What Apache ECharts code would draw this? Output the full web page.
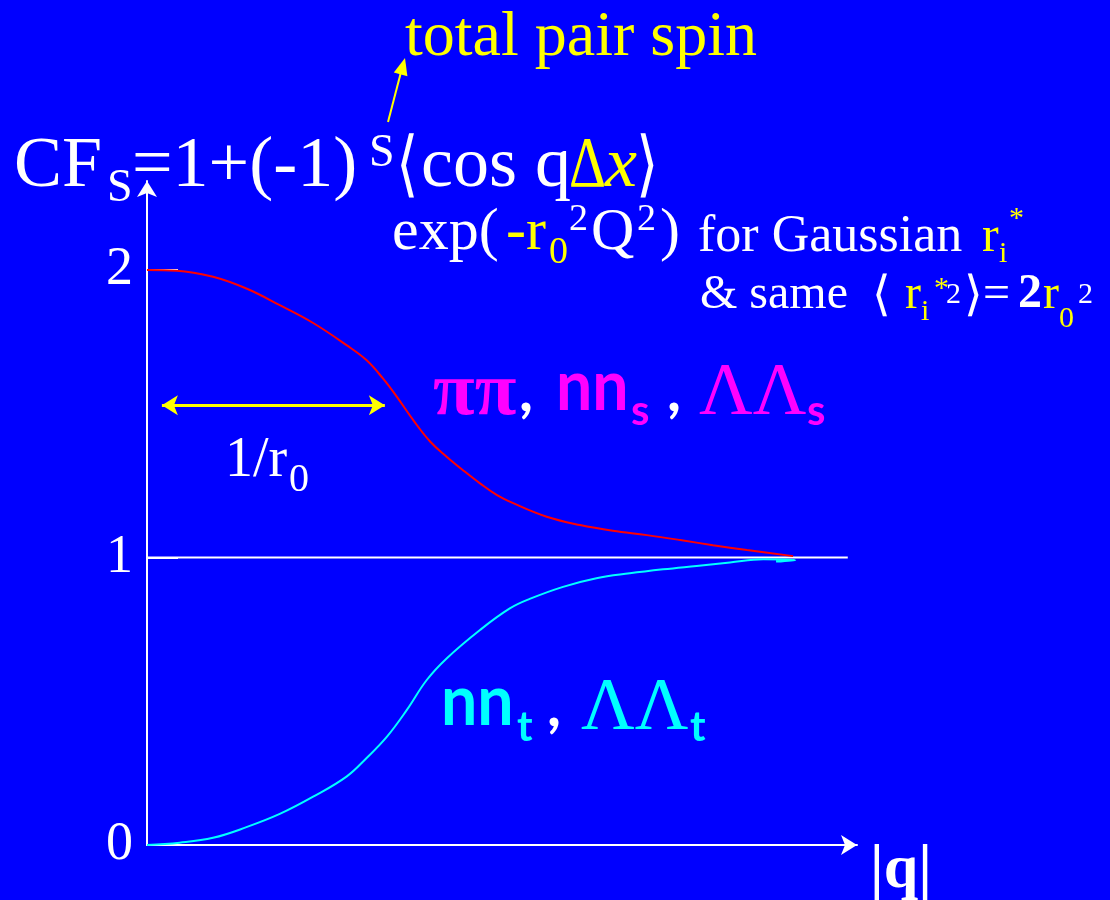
<!DOCTYPE html>
<html>
<head>
<meta charset="utf-8">
<script src="https://cdn.jsdelivr.net/npm/echarts@6/dist/echarts.min.js"></script>
<style>
  html, body { margin: 0; padding: 0; background: #0000ff; }
  #chart { width: 1110px; height: 900px; }
</style>
</head>
<body>
<div id="chart"></div>
<script>
// Correlation function of identical spin-1/2 pairs vs |q|
// Singlet (S = 0): pi pi, nn_s, Lambda Lambda_s  -> starts at 2
const qSinglet  = [0, 0.42, 0.93, 1.40, 1.87, 2.34, 2.81, 3.09, 3.32, 3.52, 3.75, 3.99, 4.22, 4.45, 4.69, 4.93, 5.15, 5.63, 6.10, 6.56, 7.04, 7.51, 7.97, 8.45, 9.10];
const cfSinglet = [2.000, 1.998, 1.977, 1.936, 1.878, 1.816, 1.739, 1.687, 1.624, 1.559, 1.478, 1.403, 1.351, 1.304, 1.258, 1.217, 1.190, 1.142, 1.113, 1.093, 1.078, 1.061, 1.043, 1.026, 1.005];

// Triplet (S = 1): nn_t, Lambda Lambda_t  -> starts at 0
const qTriplet  = [0, 0.46, 0.93, 1.40, 1.87, 2.34, 2.81, 3.09, 3.38, 3.66, 3.94, 4.22, 4.69, 5.11, 5.39, 5.86, 6.33, 6.80, 7.27, 7.74, 8.21, 8.68, 9.13, 8.86];
const cfTriplet = [0.000, 0.008, 0.025, 0.062, 0.108, 0.168, 0.238, 0.302, 0.377, 0.470, 0.574, 0.649, 0.748, 0.823, 0.856, 0.898, 0.928, 0.945, 0.959, 0.971, 0.983, 0.994, 0.991, 0.986];

// Uncorrelated level CF = 1
const qUnity  = [0, 9.87];
const cfUnity = [1, 1];

// Width 1/r0 of the correlation effect
const widthSpan  = [0.21, 3.35];
const widthLevel = 1.53;

// Axis ranges and tick labels
const qRange  = [0, 10];
const cfRange = [0, 2.31];
const cfTicks = [0, 1, 2];

const zip = (xs, ys) => xs.map((x, i) => [x, ys[i]]);

const WHITE = '#ffffff', YELLOW = '#ffff00', MAGENTA = '#ff00ff', CYAN = '#00ffff';
const SERIF = '"Liberation Serif", "Times New Roman", serif';
const SANS = 'Lato, "Open Sans", sans-serif';

// Text piece placed by its left edge and alphabetic baseline
function piece(text, x, baseline, size, color, opts) {
  opts = opts || {};
  const family = opts.family || SERIF;
  const weight = opts.weight || 'normal';
  const style = opts.italic ? 'italic ' : '';
  const k = opts.k != null ? opts.k : (family === SANS ? 0.36 : 0.25);
  return {
    type: 'text',
    silent: true,
    z: 100,
    scaleX: opts.scaleX || 1,
    x: x,
    y: baseline - k * size,
    style: {
      text: text,
      x: 0, y: 0,
      fill: color,
      font: style + weight + ' ' + size + 'px ' + family,
      align: 'left', verticalAlign: 'middle',
      textAlign: 'left', textVerticalAlign: 'middle'
    }
  };
}

const texts = [
  // note on the exponent S
  piece('total pair spin', 405, 54, 64, YELLOW),

  // CF_S = 1 + (-1)^S <cos q Δx>
  piece('CF', 14, 185, 72, WHITE),
  piece('S', 107, 200, 46, WHITE),
  piece('=1+(-1)', 132, 185, 72, WHITE),
  piece('S', 369, 165, 46, WHITE),
  piece('\u27E8', 396, 187, 72, WHITE, { scaleX: 0.8 }),
  piece('cos q', 421, 185, 72, WHITE),
  piece('\u0394', 569, 185, 72, YELLOW, { scaleX: 0.8 }),
  piece('x', 605, 185, 72, YELLOW, { italic: true }),
  piece('\u27E9', 636, 187, 72, WHITE, { scaleX: 0.8 }),

  // exp(-r0^2 Q^2)
  piece('exp(', 392, 248, 60, WHITE),
  piece('-r', 506, 248, 60, YELLOW),
  piece('0', 549, 263, 38, YELLOW),
  piece('2', 569, 230, 38, WHITE),
  piece('Q', 591, 248, 60, WHITE),
  piece('2', 637, 230, 38, WHITE),
  piece(')', 660, 248, 60, WHITE),

  // for Gaussian r_i^*
  piece('for Gaussian', 698, 250, 52, WHITE),
  piece('r', 982, 250, 50, YELLOW),
  piece('i', 999, 262, 30, YELLOW),
  piece('*', 1009, 227, 30, YELLOW),

  // & same <r_i^*2> = 2 r0^2
  piece('& same', 700, 307, 48, WHITE),
  piece('\u27E8', 872, 309, 48, WHITE),
  piece('r', 905, 307, 48, YELLOW),
  piece('i', 921, 320, 30, YELLOW),
  piece('*', 934, 297, 30, YELLOW),
  piece('2', 946, 303, 30, WHITE),
  piece('\u27E9', 964, 309, 48, WHITE),
  piece('=', 983, 307, 48, WHITE),
  piece('2', 1018, 307, 48, WHITE, { weight: 'bold' }),
  piece('r', 1043, 307, 48, YELLOW),
  piece('0', 1059, 327, 30, YELLOW),
  piece('2', 1078, 303, 30, WHITE),

  // singlet label
  piece('\u03C0\u03C0', 433, 413, 76, MAGENTA, { weight: 'bold' }),
  piece(',', 519, 413, 60, WHITE, { family: SANS, weight: 'bold' }),
  piece('nn', 556, 413, 70, MAGENTA, { family: SANS, weight: 'bold', scaleX: 0.92 }),
  piece('s', 631, 427, 42, MAGENTA, { family: SANS, weight: 'bold' }),
  piece(',', 667, 413, 60, WHITE, { family: SANS, weight: 'bold' }),
  piece('\u039B\u039B', 699, 413, 74, MAGENTA),
  piece('s', 807, 427, 42, MAGENTA, { family: SANS, weight: 'bold' }),

  // triplet label
  piece('nn', 441, 728, 70, CYAN, { family: SANS, weight: 'bold', scaleX: 0.92 }),
  piece('t', 517, 743, 42, CYAN, { family: SANS, weight: 'bold' }),
  piece(',', 547, 728, 60, WHITE, { family: SANS, weight: 'bold' }),
  piece('\u039B\u039B', 581, 728, 74, CYAN),
  piece('t', 690, 743, 42, CYAN, { family: SANS, weight: 'bold' }),

  // width label
  piece('1/r', 225, 475, 56, WHITE),
  piece('0', 289, 490, 40, WHITE),

  // x-axis name
  piece('|q|', 870, 886, 62, WHITE, { weight: 'bold' }),

  // pointer from the exponent S to the note
  {
    type: 'line', silent: true, z: 100,
    shape: { x1: 388, y1: 122, x2: 401, y2: 72 },
    style: { stroke: YELLOW, lineWidth: 2 }
  },
  {
    type: 'polygon', silent: true, z: 100,
    shape: { points: [[405, 58], [407.4, 76.2], [393.8, 72.6]] },
    style: { fill: YELLOW }
  }
];

const chart = echarts.init(document.getElementById('chart'), null, { renderer: 'canvas' });

chart.setOption({
  backgroundColor: '#0000ff',
  animation: false,
  grid: { left: 147, right: 253, top: 181, bottom: 55, containLabel: false },
  xAxis: {
    type: 'value',
    min: qRange[0], max: qRange[1],
    axisLine: {
      show: true, onZero: false,
      symbol: ['none', 'arrow'], symbolSize: [15, 16],
      lineStyle: { color: WHITE, width: 2 }
    },
    axisTick: { show: false },
    axisLabel: { show: false },
    splitLine: { show: false }
  },
  yAxis: {
    type: 'value',
    min: cfRange[0], max: cfRange[1],
    interval: 1,
    axisLine: {
      show: true, onZero: false,
      symbol: ['none', 'arrow'], symbolSize: [15, 16],
      lineStyle: { color: WHITE, width: 2 }
    },
    axisTick: {
      show: true, inside: true, length: 31,
      customValues: cfTicks,
      lineStyle: { color: WHITE, width: 2 }
    },
    axisLabel: {
      show: true,
      customValues: cfTicks,
      color: WHITE, fontFamily: SERIF, fontSize: 54, margin: 14
    },
    splitLine: { show: false }
  },
  series: [
    {
      name: 'CF = 1',
      type: 'line',
      data: zip(qUnity, cfUnity),
      showSymbol: false,
      lineStyle: { color: WHITE, width: 2 },
      z: 2
    },
    {
      name: 'singlet',
      type: 'line',
      data: zip(qSinglet, cfSinglet),
      smooth: 0.4,
      showSymbol: false,
      lineStyle: { color: '#ff0000', width: 2 },
      z: 3,
      markLine: {
        silent: true,
        symbol: ['arrow', 'arrow'],
        symbolSize: [15, 16],
        label: { show: false },
        lineStyle: { color: YELLOW, width: 3, type: 'solid' },
        data: [[
          { coord: [widthSpan[0], widthLevel] },
          { coord: [widthSpan[1], widthLevel] }
        ]]
      }
    },
    {
      name: 'triplet',
      type: 'line',
      data: zip(qTriplet, cfTriplet),
      smooth: 0.4,
      showSymbol: false,
      lineStyle: { color: CYAN, width: 2 },
      z: 3
    }
  ],
  graphic: texts
});
</script>
</body>
</html>
